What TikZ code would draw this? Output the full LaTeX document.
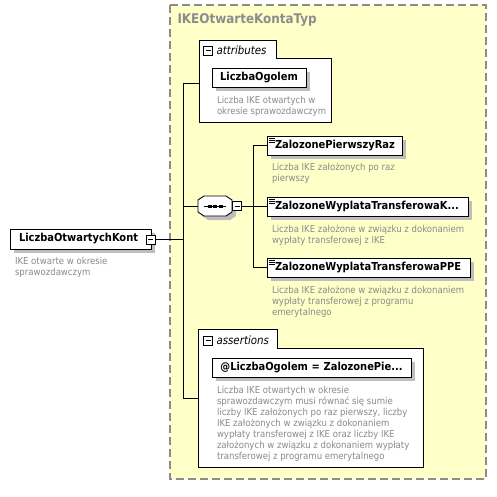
\documentclass[tikz,border=0pt]{standalone}
\usepackage{fontspec}
\setmainfont{DejaVu Sans Condensed}
\usetikzlibrary{shadows}
\definecolor{ylw}{HTML}{FFFFC8}
\definecolor{dashgray}{HTML}{8C8C8C}
\definecolor{descgray}{HTML}{8A8A8A}
\definecolor{shadowgray}{HTML}{BEBEBE}
\begin{document}
\begin{tikzpicture}[x=1pt,y=-1pt,
  every node/.style={inner sep=0pt, outer sep=0pt},
  shad/.style={drop shadow={shadow xshift=4pt, shadow yshift=-4pt, fill=shadowgray, opacity=1}},
  elem/.style={draw=black, fill=white, line width=0.9pt, minimum height=19pt, align=left,
    font=\bfseries\fontsize{11}{13}\selectfont, shad},
  elemc/.style={elem, align=center},
  desc/.style={anchor=north west, align=left, text=descgray, font=\fontsize{9.5}{11}\selectfont},
  tabtext/.style={anchor=west, font=\itshape\fontsize{11.4}{13}\selectfont},
  minusbox/.style={draw=black, fill=white, line width=0.7pt, minimum width=9pt, minimum height=9pt},
  conn/.style={draw=black, line width=0.9pt},
  cont/.style={draw=black, fill=white, line width=0.9pt}
]
\useasboundingbox (0,0) rectangle (496,497);

% outer type box
\draw[draw=dashgray, fill=ylw, line width=1.2pt, dash pattern=on 8pt off 4pt] (170,5) rectangle (486,479);
\node[anchor=west, text=dashgray, font=\bfseries\fontsize{13.3}{15}\selectfont] (title) at (177.5,20.5) {IKEOtwarteKontaTyp};

% attributes container
\draw[cont] (199,122) -- (199,40) -- (276,40) -- (276,58) -- (331,58) -- (331,122) -- cycle;
\node[minusbox] (attrminus) at (208,50.5) {};
\draw[line width=0.7pt] ([xshift=-2.5pt]attrminus.center) -- ([xshift=2.5pt]attrminus.center);
\node[tabtext] (attrlabel) at (216.5,50) {attributes};

\node[elemc, text width=94pt] (ogolem) at (259,77.5) {LiczbaOgolem};
\node[desc] (ogolemdesc) at (217,96) {Liczba IKE otwartych w\\okresie sprawozdawczym};

% assertions container
\draw[cont] (198,467) -- (198,329) -- (277,329) -- (277,348) -- (423,348) -- (423,467) -- cycle;
\node[minusbox] (asrtminus) at (208,340.5) {};
\draw[line width=0.7pt] ([xshift=-2.5pt]asrtminus.center) -- ([xshift=2.5pt]asrtminus.center);
\node[tabtext] (asrtlabel) at (216.5,340) {assertions};

\node[elemc, text width=199pt] (asrt) at (311.5,367.5) {@LiczbaOgolem = ZalozonePie...};
\node[desc] (asrtdesc) at (217,386) {Liczba IKE otwartych w okresie\\sprawozdawczym musi równać się sumie\\liczby IKE założonych po raz pierwszy, liczby\\IKE założonych w związku z dokonaniem\\wypłaty transferowej z IKE oraz liczby IKE\\założonych w związku z dokonaniem wypłaty\\transferowej z programu emerytalnego};

% main element
\node[elem, text width=141pt, minimum height=20pt] (main) at (80.5,239) {\hspace*{9pt}LiczbaOtwartychKont};
\node[minusbox] (mainminus) at (150.5,239.5) {};
\draw[line width=0.7pt] ([xshift=-2.5pt]mainminus.center) -- ([xshift=2.5pt]mainminus.center);
\node[desc] (maindesc) at (15,257) {IKE otwarte w okresie\\sprawozdawczym};

% sequence compositor
\node[minimum width=34pt, minimum height=20pt] (seq) at (215,206) {};
\draw[fill=white, line width=0.9pt, shad]
  ([xshift=6pt]seq.north west) -- ([xshift=-6pt]seq.north east) -- ([yshift=-4pt]seq.north east)
  -- ([yshift=4pt]seq.south east) -- ([xshift=-6pt]seq.south east) -- ([xshift=6pt]seq.south west)
  -- ([yshift=4pt]seq.south west) -- ([yshift=-4pt]seq.north west) -- cycle;
\draw[line width=1pt] ([xshift=-11pt]seq.center) -- ([xshift=11pt]seq.center);
\foreach \dx in {-5.5,0,5.5} \fill ([shift={(\dx-2,-1.5)}]seq.center) rectangle ([shift={(\dx+2,1.5)}]seq.center);
\node[minusbox] (seqminus) at (237,206) {};
\draw[line width=0.7pt] ([xshift=-2.5pt]seqminus.center) -- ([xshift=2.5pt]seqminus.center);

% child elements
\node[elem, text width=135pt] (zpr) at (334.5,145.5) {\hspace*{8pt}ZalozonePierwszyRaz};
\node[desc] (zprdesc) at (272,163) {Liczba IKE założonych po raz\\pierwszy};
\node[elem, text width=201pt] (zwtk) at (367.5,206.5) {\hspace*{8pt}ZalozoneWyplataTransferowaK...};
\node[desc] (zwtkdesc) at (272,225) {Liczba IKE założone w związku z dokonaniem\\wypłaty transferowej z IKE};
\node[elem, text width=203pt] (ppe) at (368.5,267.5) {\hspace*{8pt}ZalozoneWyplataTransferowaPPE};
\node[desc] (ppedesc) at (272,286) {Liczba IKE założone w związku z dokonaniem\\wypłaty transferowej z programu\\emerytalnego};

% element icons
\foreach \n in {zpr,zwtk,ppe}{
  \foreach \dy in {2.5,4.5,6.5}
    \draw[line width=0.6pt] ([shift={(1.5,\dy)}]\n.north west) -- ++(6,0);
}

% connectors
\coordinate (trunk1) at (183,83);
\coordinate (trunk2) at (183,398);
\coordinate (branchtop) at (253,145.5);
\coordinate (branchbot) at (253,267.5);
\draw[conn] (mainminus.east) -- (183,239.5);
\draw[conn] (199,83) -- (trunk1) -- (trunk2) -- (198,398);
\draw[conn] (183,206) -- (seq.west);
\draw[conn] (seqminus.east) -- (253,206);
\draw[conn] (zpr.west) -- (branchtop) -- (branchbot) -- (ppe.west);
\draw[conn] (253,206.5) -- (zwtk.west);
\end{tikzpicture}
\end{document}
